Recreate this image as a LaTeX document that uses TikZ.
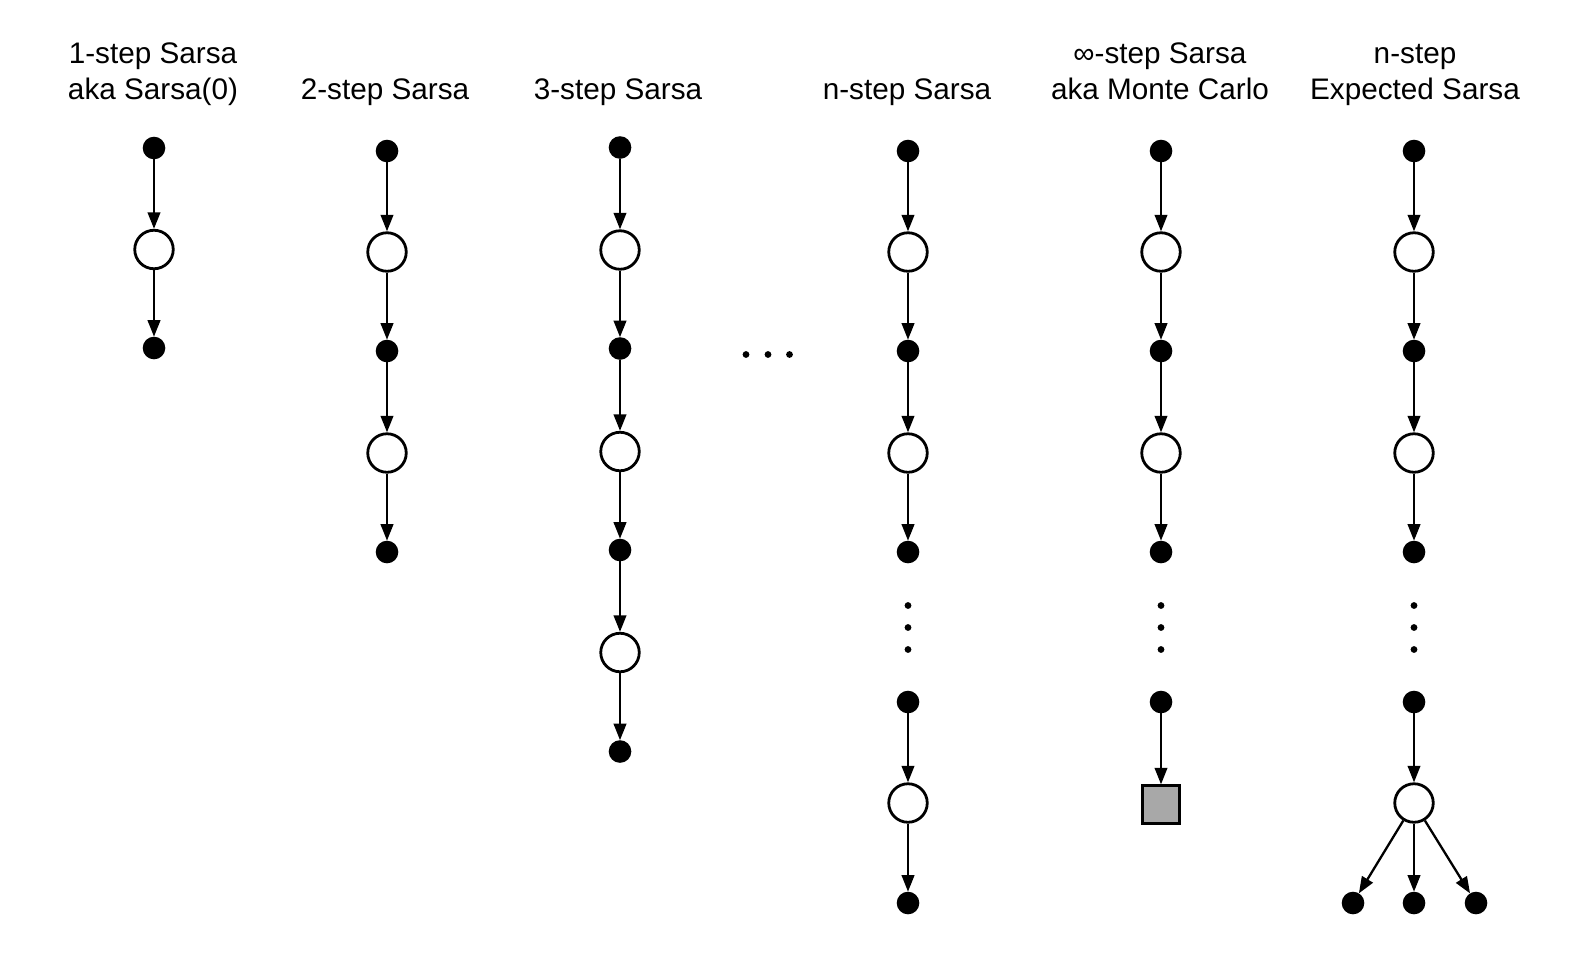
\documentclass[tikz,border=0pt]{standalone}
\usepackage{fontspec}
\setmainfont{Liberation Sans}
\usetikzlibrary{arrows.meta}
\definecolor{boxgray}{HTML}{A8A8A8}
\begin{document}
\begin{tikzpicture}[x=1pt,y=-1pt,
  sdot/.style={circle,fill=black,draw=none,minimum size=22.6pt,inner sep=0pt,outer sep=0pt},
  anode/.style={circle,draw=black,fill=white,line width=2.8pt,minimum size=38.5pt,inner sep=0pt},
  termbox/.style={rectangle,draw=black,fill=boxgray,line width=2.8pt,minimum size=37.5pt,inner sep=0pt},
  tinydot/.style={circle,fill=black,draw=none,minimum size=6.8pt,inner sep=0pt},
  edge/.style={line width=2.3pt,-{Triangle[length=16.5pt,width=12.5pt]}},
  title/.style={anchor=base,inner sep=0pt,font=\fontsize{29.7pt}{36pt}\selectfont}]
\useasboundingbox[fill=white] (0,0) rectangle (1578,956);

% titles
\node[title] (t1a) at (153,63) {1-step Sarsa};
\node[title] (t1b) at (153,99) {aka Sarsa(0)};
\node[title] (t2) at (385,99) {2-step Sarsa};
\node[title] (t3) at (618,99) {3-step Sarsa};
\node[title] (t4) at (907,99) {n-step Sarsa};
\node[title] (t5a) at (1160,63) {∞-step Sarsa};
\node[title] (t5b) at (1160,99) {aka Monte Carlo};
\node[title] (t6a) at (1415,63) {n-step};
\node[title] (t6b) at (1415,99) {Expected Sarsa};

% column 1
\node[sdot]  (a1) at (154,148) {};
\node[anode] (a2) at (154,249.5) {};
\node[sdot]  (a3) at (154,348) {};

% column 2
\node[sdot]  (b1) at (387,151) {};
\node[anode] (b2) at (387,252) {};
\node[sdot]  (b3) at (387,351) {};
\node[anode] (b4) at (387,453) {};
\node[sdot]  (b5) at (387,552) {};

% column 3
\node[sdot]  (c1) at (620,147.5) {};
\node[anode] (c2) at (620,250) {};
\node[sdot]  (c3) at (620,348.5) {};
\node[anode] (c4) at (620,451.5) {};
\node[sdot]  (c5) at (620,550) {};
\node[anode] (c6) at (620,652.5) {};
\node[sdot]  (c7) at (620,751.5) {};

% horizontal ellipsis
\node[tinydot] (h1) at (746,354.5) {};
\node[tinydot] (h2) at (768,354.5) {};
\node[tinydot] (h3) at (789.5,354.5) {};

% column 4
\node[sdot]  (d1) at (908,151) {};
\node[anode] (d2) at (908,252) {};
\node[sdot]  (d3) at (908,351) {};
\node[anode] (d4) at (908,453) {};
\node[sdot]  (d5) at (908,552) {};
\node[tinydot] (dv1) at (908,605.5) {};
\node[tinydot] (dv2) at (908,627.5) {};
\node[tinydot] (dv3) at (908,649.5) {};
\node[sdot]  (d6) at (908,702) {};
\node[anode] (d7) at (908,803) {};
\node[sdot]  (d8) at (908,903) {};

% column 5
\node[sdot]  (e1) at (1161,151) {};
\node[anode] (e2) at (1161,252) {};
\node[sdot]  (e3) at (1161,351) {};
\node[anode] (e4) at (1161,453) {};
\node[sdot]  (e5) at (1161,552) {};
\node[tinydot] (ev1) at (1161,605.5) {};
\node[tinydot] (ev2) at (1161,627.5) {};
\node[tinydot] (ev3) at (1161,649.5) {};
\node[sdot]  (e6) at (1161,702) {};
\node[termbox] (e7) at (1161,804.5) {};

% column 6
\node[sdot]  (f1) at (1414,151) {};
\node[anode] (f2) at (1414,252) {};
\node[sdot]  (f3) at (1414,351) {};
\node[anode] (f4) at (1414,453) {};
\node[sdot]  (f5) at (1414,552) {};
\node[tinydot] (fv1) at (1414,605.5) {};
\node[tinydot] (fv2) at (1414,627.5) {};
\node[tinydot] (fv3) at (1414,649.5) {};
\node[sdot]  (f6) at (1414,702) {};
\node[anode] (f7) at (1414,803) {};
\node[sdot]  (f8) at (1353,903) {};
\node[sdot]  (f9) at (1414,903) {};
\node[sdot]  (f10) at (1476,903) {};

% connectors
\foreach \u/\v in {a1/a2,a2/a3,
  b1/b2,b2/b3,b3/b4,b4/b5,
  c1/c2,c2/c3,c3/c4,c4/c5,c5/c6,c6/c7,
  d1/d2,d2/d3,d3/d4,d4/d5,d6/d7,d7/d8,
  e1/e2,e2/e3,e3/e4,e4/e5,e6/e7,
  f1/f2,f2/f3,f3/f4,f4/f5,f6/f7,f7/f8,f7/f9,f7/f10}
  \draw[edge] (\u) -- (\v);
\end{tikzpicture}
\end{document}
